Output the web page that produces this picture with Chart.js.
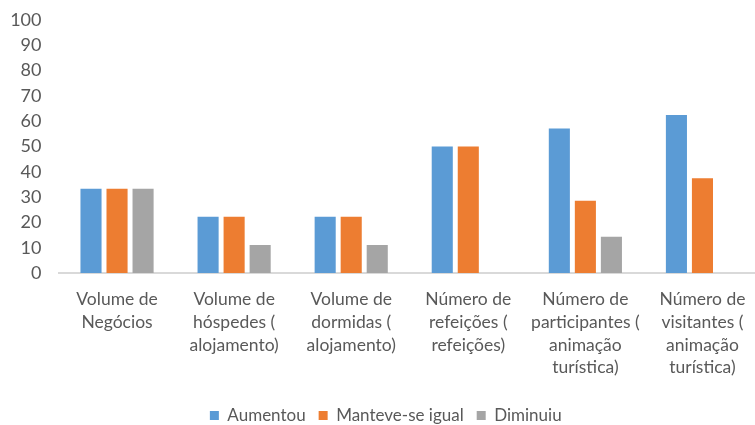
<!DOCTYPE html>
<html lang="pt">
<head>
<meta charset="utf-8">
<title>Gráfico</title>
<script src="https://cdn.jsdelivr.net/npm/chart.js@4.4.1/dist/chart.umd.min.js"></script>
<style>
  html, body { margin: 0; padding: 0; background: #fff; overflow: hidden; }
  /* o eixo do original passa um pouco da margem direita */
  #wrap { width: 761px; height: 425px; }
</style>
</head>
<body>
<div id="wrap"><canvas id="myChart"></canvas></div>
<script>
  // categorias (eixo x), em várias linhas como no original
  const categories = [
    ["Volume de", "Negócios"],
    ["Volume de", "hóspedes (", "alojamento)"],
    ["Volume de", "dormidas (", "alojamento)"],
    ["Número de", "refeições (", "refeições)"],
    ["Número de", "participantes (", "animação", "turística)"],
    ["Número de", "visitantes (", "animação", "turística)"]
  ];
  const seriesNames = ["Aumentou", "Manteve-se igual", "Diminuiu"];
  const aumentou = [33.3, 22.2, 22.2, 50, 57.1, 62.5];
  const manteve = [33.3, 22.2, 22.2, 50, 28.6, 37.5];
  const diminuiu = [33.3, 11.1, 11.1, 0, 14.3, 0];
  const yTicks = [0, 10, 20, 30, 40, 50, 60, 70, 80, 90, 100];

  const colors = ['#5B9BD5', '#ED7D31', '#A5A5A5'];
  const fontFamily = "Lato, Roboto, sans-serif";

  // legenda mais baixa: corta a altura que o Chart.js reserva
  const legendFix = {
    id: 'legendFix',
    beforeInit: function (chart) {
      const fit = chart.legend.fit;
      chart.legend.fit = function () {
        fit.bind(chart.legend)();
        this.height = 31;
      };
    }
  };

  var ctx = document.getElementById("myChart");
  var myChart = new Chart(ctx, {
    type: 'bar',
    data: {
      labels: categories,
      datasets: [aumentou, manteve, diminuiu].map(function (vals, i) {
        return {
          label: seriesNames[i],
          data: vals,
          backgroundColor: colors[i],
          categoryPercentage: 0.667,
          barPercentage: 0.81
        };
      })
    },
    plugins: [legendFix],
    options: {
      responsive: true,
      maintainAspectRatio: false,
      animation: false,
      layout: { padding: { left: 10.5, right: 0, top: 20, bottom: 0 } },
      plugins: {
        tooltip: { enabled: false },
        legend: {
          position: 'bottom',
          labels: {
            boxWidth: 9,
            boxHeight: 9,
            padding: 13,
            color: '#595959',
            font: { family: fontFamily, size: 17 }
          }
        }
      },
      scales: {
        x: {
          grid: { display: false, drawTicks: false },
          border: { display: true, color: '#d9d9d9', width: 2 },
          afterFit: function (axis) {
            axis.paddingLeft = 0;
            axis.paddingRight = 0;
          },
          ticks: {
            color: '#595959',
            maxRotation: 0,
            autoSkip: false,
            padding: 15,
            font: { family: fontFamily, size: 17.5, lineHeight: 1.3 }
          }
        },
        y: {
          min: 0,
          max: 100,
          afterBuildTicks: function (axis) {
            axis.ticks = yTicks.map(function (v) { return { value: v }; });
          },
          afterFit: function (axis) {
            axis.width = 48;
            axis.paddingTop = 0;
            axis.paddingBottom = 0;
          },
          grid: { display: false, drawTicks: false },
          border: { display: false },
          ticks: {
            color: '#595959',
            padding: 17,
            autoSkip: false,
            font: { family: fontFamily, size: 18 }
          }
        }
      }
    }
  });
</script>
</body>
</html>
